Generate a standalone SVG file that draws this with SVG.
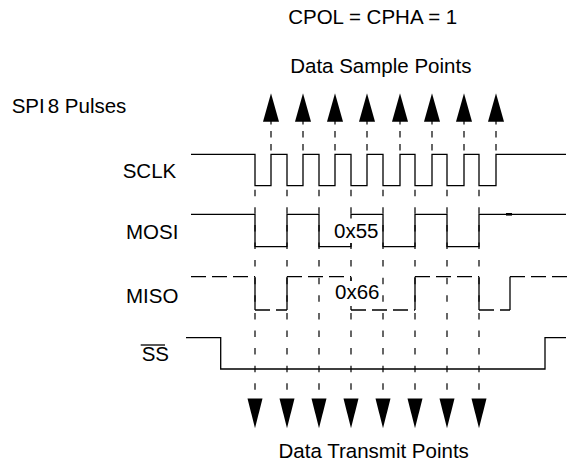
<svg xmlns="http://www.w3.org/2000/svg" width="569" height="461" viewBox="0 0 569 461">
<style>
text{font-family:"Liberation Sans",Arial,sans-serif;font-size:20.5px;fill:#000}
.sig{fill:none;stroke:#000;stroke-width:1.3}
.dsig{fill:none;stroke:#000;stroke-width:1.3;stroke-dasharray:15 6}
.samp{stroke:#000;stroke-width:1.2;stroke-dasharray:6.5 6.5}
.xmit{stroke:#000;stroke-width:1.2;stroke-dasharray:6.5 11.1}
.arr{fill:#000}
</style>
<rect width="569" height="461" fill="#fff"/>
<g id="titles">
<text x="372.7" y="24" text-anchor="middle">CPOL = CPHA = 1</text>
<text x="380.8" y="72.7" text-anchor="middle">Data Sample Points</text>
<text x="11.7" y="112.7">SPI<tspan dx="3">8</tspan> Pulses</text>
<text x="373.7" y="457.5" text-anchor="middle">Data Transmit Points</text>
</g>
<g id="connectors">
<g id="sample-guides">
<line class="samp" x1="271" y1="118" x2="271" y2="154"/>
<line class="samp" x1="303" y1="118" x2="303" y2="154"/>
<line class="samp" x1="335" y1="118" x2="335" y2="154"/>
<line class="samp" x1="367" y1="118" x2="367" y2="154"/>
<line class="samp" x1="400" y1="118" x2="400" y2="154"/>
<line class="samp" x1="432" y1="118" x2="432" y2="154"/>
<line class="samp" x1="464" y1="118" x2="464" y2="154"/>
<line class="samp" x1="496" y1="118" x2="496" y2="154"/>
</g>
<g id="transmit-guides">
<line class="xmit" x1="255" y1="189.7" x2="255" y2="400"/>
<line class="xmit" x1="287" y1="189.7" x2="287" y2="400"/>
<line class="xmit" x1="319" y1="189.7" x2="319" y2="400"/>
<line class="xmit" x1="351" y1="189.7" x2="351" y2="400"/>
<line class="xmit" x1="383" y1="189.7" x2="383" y2="400"/>
<line class="xmit" x1="415" y1="189.7" x2="415" y2="400"/>
<line class="xmit" x1="447" y1="189.7" x2="447" y2="400"/>
<line class="xmit" x1="479" y1="189.7" x2="479" y2="400"/>
</g>
</g>
<g id="sample-arrows" class="arr">
<polygon points="271,93.3 263,121.7 279,121.7"/>
<polygon points="303,93.3 295,121.7 311,121.7"/>
<polygon points="335,93.3 327,121.7 343,121.7"/>
<polygon points="367,93.3 359,121.7 375,121.7"/>
<polygon points="400,93.3 392,121.7 408,121.7"/>
<polygon points="432,93.3 424,121.7 440,121.7"/>
<polygon points="464,93.3 456,121.7 472,121.7"/>
<polygon points="496,93.3 488,121.7 504,121.7"/>
</g>
<g id="transmit-arrows" class="arr">
<polygon points="247.5,398.5 262.5,398.5 255,428.3"/>
<polygon points="279.5,398.5 294.5,398.5 287,428.3"/>
<polygon points="311.5,398.5 326.5,398.5 319,428.3"/>
<polygon points="343.5,398.5 358.5,398.5 351,428.3"/>
<polygon points="375.5,398.5 390.5,398.5 383,428.3"/>
<polygon points="407.5,398.5 422.5,398.5 415,428.3"/>
<polygon points="439.5,398.5 454.5,398.5 447,428.3"/>
<polygon points="471.5,398.5 486.5,398.5 479,428.3"/>
</g>
<g id="sclk">
<text x="122.7" y="178.3">SCLK</text>
<polyline class="sig" points="191,154.3 255,154.3 255,185.7 271,185.7 271,154.3 287,154.3 287,185.7 303,185.7 303,154.3 319,154.3 319,185.7 335,185.7 335,154.3 351,154.3 351,185.7 367,185.7 367,154.3 383,154.3 383,185.7 400,185.7 400,154.3 415,154.3 415,185.7 432,185.7 432,154.3 447,154.3 447,185.7 464,185.7 464,154.3 479,154.3 479,185.7 496,185.7 496,154.3 566,154.3"/>
</g>
<g id="mosi">
<text x="126" y="239.3">MOSI</text>
<polyline class="sig" points="191,214.3 255,214.3 255,246.7 287,246.7 287,214.3 319,214.3 319,246.7 351,246.7 351,214.3 383,214.3 383,246.7 415,246.7 415,214.3 447,214.3 447,246.7 479,246.7 479,214.3 566,214.3"/>
<rect x="506" y="213" width="6" height="2.6" fill="#000"/>
<rect x="332" y="218.5" width="49" height="24.5" fill="#fff"/>
<text x="334" y="238.3">0x55</text>
</g>
<g id="miso">
<text x="126" y="302.7">MISO</text>
<line class="dsig" x1="191" y1="276.7" x2="255" y2="276.7"/>
<line class="sig" x1="255" y1="276.7" x2="255" y2="310"/>
<line class="dsig" x1="255" y1="310" x2="287" y2="310"/>
<line class="sig" x1="287" y1="310" x2="287" y2="276.7"/>
<line class="dsig" x1="287" y1="276.7" x2="351" y2="276.7"/>
<line class="sig" x1="351" y1="276.7" x2="351" y2="310"/>
<line class="dsig" x1="351" y1="310" x2="415" y2="310"/>
<line class="sig" x1="415" y1="310" x2="415" y2="276.7"/>
<line class="dsig" x1="415" y1="276.7" x2="479" y2="276.7"/>
<line class="sig" x1="479" y1="276.7" x2="479" y2="310"/>
<line class="dsig" x1="479" y1="310" x2="510" y2="310"/>
<line class="sig" x1="510" y1="310" x2="510" y2="276.7"/>
<line class="dsig" x1="510" y1="276.7" x2="568" y2="276.7"/>
<rect x="333" y="281" width="48" height="25" fill="#fff"/>
<text x="335" y="299.3">0x66</text>
</g>
<g id="ss">
<text x="141.7" y="360.7">SS</text>
<line class="sig" x1="140.7" y1="345" x2="165" y2="345"/>
<polyline class="sig" points="186,337.7 220.7,337.7 220.7,369 545,369 545,337.7 566,337.7"/>
</g>
</svg>
